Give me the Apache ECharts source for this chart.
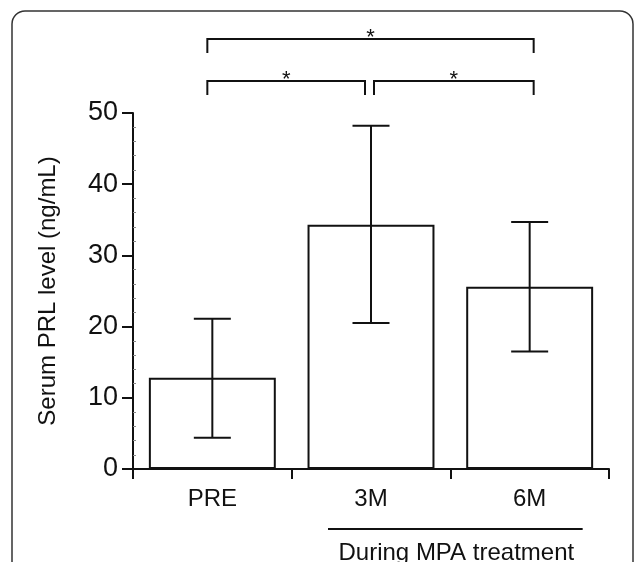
<!DOCTYPE html>
<html>
<head>
<meta charset="utf-8">
<script src="https://cdn.jsdelivr.net/npm/echarts@6/dist/echarts.min.js"></script>
<style>
  html, body { margin: 0; padding: 0; background: #fff; }
  #main { width: 636px; height: 562px; }
</style>
</head>
<body>
<div id="main"></div>
<script>
// values
const categories = ['PRE', '3M', '6M'];
const means = [12.8, 34.3, 25.6];
const errLow = [4.4, 20.5, 16.5];
const errHigh = [21.1, 48.2, 34.7];

// significance brackets: category index pairs, row 0 = top
const bracketFrom = [0, 0, 1];
const bracketTo = [2, 1, 2];
const bracketRow = [0, 1, 1];
const bracketText = ['*', '*', '*'];

// group label under the axis
const groupFrom = [1];
const groupTo = [2];
const groupText = ['During MPA treatment'];

const ink = '#111';
const font = '"Liberation Sans", Arial, Helvetica, sans-serif';

const chart = echarts.init(document.getElementById('main'));

const option = {
    backgroundColor: '#fff',
    animation: false,
    textStyle: { fontFamily: font, color: ink },
    graphic: [{
        type: 'rect',
        shape: { x: 12, y: 11, width: 621, height: 620, r: 13 },
        style: { fill: 'none', stroke: '#333', lineWidth: 1.5 },
        silent: true
    }],
    grid: { left: 133, right: 27, top: 113, bottom: 93 },
    xAxis: {
        type: 'category',
        data: categories,
        axisLine: { lineStyle: { color: ink, width: 2 } },
        axisTick: { show: true, length: 10, lineStyle: { color: ink, width: 2 } },
        axisLabel: { fontSize: 24, color: ink, margin: 18, fontFamily: font }
    },
    yAxis: [{
        type: 'value',
        min: 0,
        max: 50,
        interval: 10,
        name: 'Serum PRL level (ng/mL)',
        nameLocation: 'middle',
        nameGap: 73,
        nameTextStyle: { fontSize: 24, color: ink, fontFamily: font },
        axisLine: { show: true, lineStyle: { color: ink, width: 2 } },
        axisTick: { show: true, length: 11, lineStyle: { color: ink, width: 2 } },
        axisLabel: { fontSize: 27, color: ink, margin: 15, fontFamily: font },
        splitLine: { show: false }
    }, {
        type: 'value',
        min: 0,
        max: 50,
        interval: 10,
        position: 'left',
        axisLine: { show: false },
        axisTick: { show: false, inside: true },
        minorTick: { show: true, splitNumber: 5, length: 3, lineStyle: { color: '#888', width: 1 } },
        axisLabel: { show: false },
        splitLine: { show: false }
    }],
    series: [{
        type: 'bar',
        data: means,
        barCategoryGap: '20%',
        itemStyle: { color: '#fff', borderColor: ink, borderWidth: 2 },
        z: 2
    }, {
        type: 'custom',
        data: categories.map((c, i) => [i, errLow[i], errHigh[i]]),
        encode: { x: 0, y: [1, 2] },
        z: 3,
        renderItem: function (params, api) {
            const lo = api.coord([api.value(0), api.value(1)]);
            const hi = api.coord([api.value(0), api.value(2)]);
            const half = 18.5;
            const st = { stroke: ink, lineWidth: 2 };
            return {
                type: 'group',
                children: [
                    { type: 'line', shape: { x1: lo[0], y1: lo[1], x2: hi[0], y2: hi[1] }, style: st },
                    { type: 'line', shape: { x1: lo[0] - half, y1: lo[1], x2: lo[0] + half, y2: lo[1] }, style: st },
                    { type: 'line', shape: { x1: hi[0] - half, y1: hi[1], x2: hi[0] + half, y2: hi[1] }, style: st }
                ]
            };
        }
    }, {
        type: 'custom',
        data: bracketFrom.map((f, i) => [f, bracketTo[i], bracketRow[i]]),
        encode: { x: 0 },
        clip: false,
        silent: true,
        renderItem: function (params, api) {
            const from = api.value(0), to = api.value(1), row = api.value(2);
            const top = api.coord([0, 50])[1];
            const y = row === 0 ? top - 74 : top - 32;
            const x1 = api.coord([from, 0])[0] + (from === 0 ? -5 : 3);
            const x2 = api.coord([to, 0])[0] + (to === 2 ? 4 : -6);
            const leg = 14;
            return {
                type: 'group',
                children: [
                    { type: 'polyline', shape: { points: [[x1, y + leg], [x1, y], [x2, y], [x2, y + leg]] }, style: { stroke: ink, lineWidth: 2, fill: 'none' } },
                    { type: 'text', style: { text: bracketText[params.dataIndex], x: (x1 + x2) / 2, y: y - 1, align: 'center', verticalAlign: 'middle', font: '22px ' + font, fill: ink } }
                ]
            };
        }
    }, {
        type: 'custom',
        data: groupFrom.map((f, i) => [f, groupTo[i]]),
        encode: { x: 0 },
        clip: false,
        silent: true,
        renderItem: function (params, api) {
            const base = api.coord([0, 0])[1];
            const x1 = api.coord([api.value(0), 0])[0] - 43;
            const x2 = api.coord([api.value(1), 0])[0] + 53;
            return {
                type: 'group',
                children: [
                    { type: 'line', shape: { x1: x1, y1: base + 60, x2: x2, y2: base + 60 }, style: { stroke: ink, lineWidth: 2 } },
                    { type: 'text', style: { text: groupText[params.dataIndex], x: (x1 + x2) / 2 + 1, y: base + 72, align: 'center', verticalAlign: 'top', font: '24px ' + font, fill: ink } }
                ]
            };
        }
    }]
};

chart.setOption(option);
</script>
</body>
</html>
